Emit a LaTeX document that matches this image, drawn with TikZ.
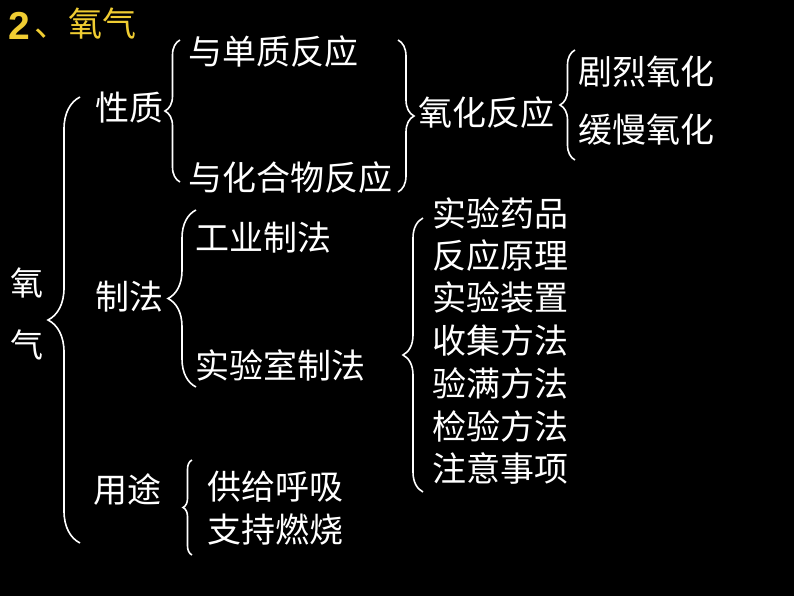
\documentclass[tikz,border=0pt]{standalone}
\usepackage{fontspec}
\setmainfont{Noto Sans CJK SC}
\newfontfamily\numfont{Liberation Sans}
\usetikzlibrary{decorations.pathreplacing}

\definecolor{titlegold}{RGB}{240,205,50}
\tikzset{
  item/.style={anchor=west, inner sep=0pt, text=white, font=\fontsize{34}{34}\selectfont},
  bracket/.style={draw=white, line width=1.6pt, decorate, decoration={brace, amplitude=#1}},
}

\begin{document}
\begin{tikzpicture}[x=1pt, y=-1pt]
\fill[black] (0,0) rectangle (794,596);
\useasboundingbox (0,0) rectangle (794,596);

% title
\node[anchor=west, inner sep=0pt, text=titlegold, font=\numfont\bfseries\fontsize{39}{39}\selectfont] (titlenum) at (8,26) {2};
\node[anchor=west, inner sep=0pt, text=titlegold, font=\fontsize{34}{34}\selectfont] (titletext) at (34,24) {、氧气};

% left column
\node[inner sep=0pt, text=white, font=\fontsize{33}{33}\selectfont] (yang) at (27,283) {氧};
\node[inner sep=0pt, text=white, font=\fontsize{33}{33}\selectfont] (qi) at (27,345) {气};

\node[item] (xingzhi) at (95,108) {性质};
\node[item] (zhifa) at (95,297) {制法};
\node[item] (yongtu) at (93,490) {用途};

% properties
\node[item] (danzhi) at (188,52) {与单质反应};
\node[item] (huahewu) at (188,178) {与化合物反应};
\node[item] (yanghua) at (418,113) {氧化反应};
\node[item] (julie) at (578,72) {剧烈氧化};
\node[item] (huanman) at (578,130) {缓慢氧化};

% preparation
\node[item] (gongye) at (195,238) {工业制法};
\node[item] (shiyanshi) at (195,365) {实验室制法};
\node[item] (yaopin) at (432,213) {实验药品};
\node[item] (yuanli) at (432,256) {反应原理};
\node[item] (zhuangzhi) at (432,298) {实验装置};
\node[item] (shouji) at (432,341) {收集方法};
\node[item] (yanman) at (432,383) {验满方法};
\node[item] (jianyan) at (432,426) {检验方法};
\node[item] (zhuyi) at (432,468) {注意事项};

% uses
\node[item] (huxi) at (207,487) {供给呼吸};
\node[item] (ranshao) at (207,530) {支持燃烧};

% brace ends
\coordinate (main-top) at (80,97);
\coordinate (main-bot) at (80,543);
\coordinate (xz-top) at (180,40);
\coordinate (xz-bot) at (180,182);
\coordinate (fy-top) at (398,40);
\coordinate (fy-bot) at (398,192);
\coordinate (yh-top) at (575,50);
\coordinate (yh-bot) at (575,160);
\coordinate (zf-top) at (196,210);
\coordinate (zf-bot) at (196,387);
\coordinate (sy-top) at (423,218);
\coordinate (sy-bot) at (423,492);
\coordinate (yt-top) at (192,460);
\coordinate (yt-bot) at (192,555);

\draw[bracket=32] (main-bot) -- (main-top);
\draw[bracket=15] (xz-bot) -- (xz-top);
\draw[bracket=16] (fy-top) -- (fy-bot);
\draw[bracket=15] (yh-bot) -- (yh-top);
\draw[bracket=28] (zf-bot) -- (zf-top);
\draw[bracket=20] (sy-bot) -- (sy-top);
\draw[bracket=9] (yt-bot) -- (yt-top);
\end{tikzpicture}
\end{document}
